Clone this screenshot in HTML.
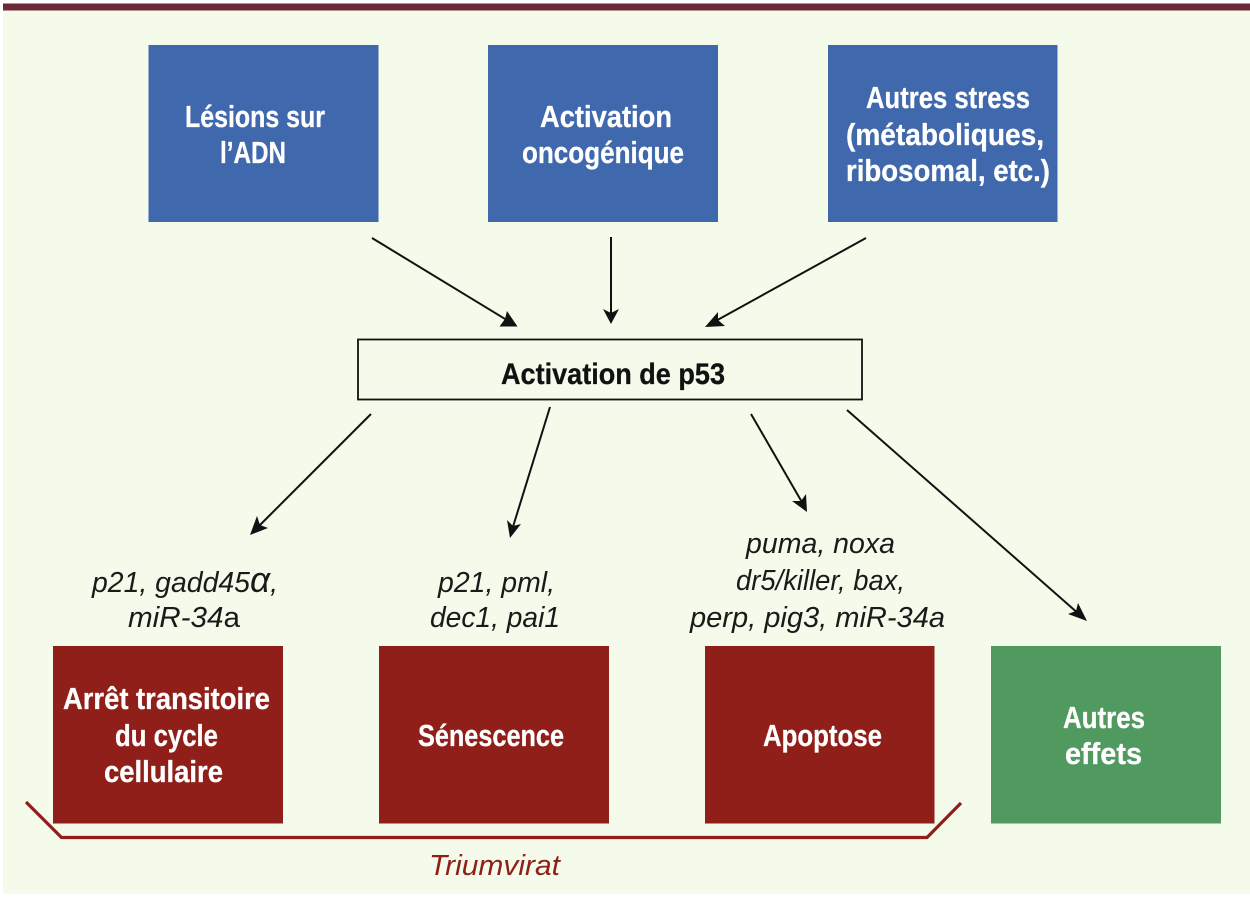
<!DOCTYPE html>
<html><head><meta charset="utf-8"><style>
html,body{margin:0;padding:0;background:#fff}
svg{display:block}
text{font-family:"Liberation Sans",sans-serif}
.b{font-weight:bold;font-size:31px;fill:#fff;stroke:#fff;stroke-width:.3}
.i{font-style:italic;font-size:29px;fill:#1a1a1a}
.l{stroke:#111;stroke-width:2;fill:none}
.h{fill:#111}
</style></head><body>
<svg width="1250" height="897" viewBox="0 0 1250 897" xmlns="http://www.w3.org/2000/svg">
<rect x="0" y="0" width="1250" height="897" fill="#fff"/>
<rect x="3" y="10" width="1247" height="884" fill="#f4fbea"/>
<rect x="3" y="3.5" width="1247" height="7" fill="#6b2a38"/>

<rect x="148.500" y="45" width="230" height="177" fill="#4068ac"/>
<rect x="488" y="45" width="230" height="177" fill="#4068ac"/>
<rect x="828" y="45" width="229.500" height="177" fill="#4068ac"/>
<rect x="358" y="339.500" width="504" height="60" fill="#f4fbea" stroke="#111" stroke-width="1.8"/>
<rect x="53" y="646" width="230" height="177.500" fill="#8f1f18"/>
<rect x="379" y="646" width="230" height="177.500" fill="#8f1f18"/>
<rect x="705" y="646" width="229.500" height="177.500" fill="#8f1f18"/>
<rect x="991" y="646" width="230" height="177.500" fill="#519a5f"/>

<path class="l" d="M372 238L510 322"/><path class="h" d="M517.500 326.500L499.500 326.500L505 319L507 311Z"/>
<path class="l" d="M611 237V316"/><path class="h" d="M611 324L603 309L611 313L619 309Z"/>
<path class="l" d="M866 238L712 323"/><path class="h" d="M705 327L718 312L718 320L725 326Z"/>
<path class="l" d="M371 414L256 529"/><path class="h" d="M250 535L257 516L260 525L268 528Z"/>
<path class="l" d="M550 407L512 530"/><path class="h" d="M510 538L507 520L513 526L521 524Z"/>
<path class="l" d="M751 414L803 504"/><path class="h" d="M807 512L792 501L801 501L806 494Z"/>
<path class="l" d="M847 410L1080 615"/><path class="h" d="M1087 621L1068 614L1076 611L1078 603Z"/>
<path d="M26 802L61.500 837.500H927L961 803" fill="none" stroke="#8f1f18" stroke-width="3.200"/>

<text class="b" x="185" y="127" textLength="140" lengthAdjust="spacingAndGlyphs">Lésions sur</text>
<text class="b" x="220" y="163" textLength="66" lengthAdjust="spacingAndGlyphs">l’ADN</text>
<text class="b" x="540" y="127" textLength="132" lengthAdjust="spacingAndGlyphs">Activation</text>
<text class="b" x="522" y="163" textLength="162" lengthAdjust="spacingAndGlyphs">oncogénique</text>
<text class="b" x="866" y="108" textLength="164" lengthAdjust="spacingAndGlyphs">Autres stress</text>
<text class="b" x="846" y="145" textLength="198" lengthAdjust="spacingAndGlyphs">(métaboliques,</text>
<text class="b" x="846" y="181" textLength="204" lengthAdjust="spacingAndGlyphs">ribosomal, etc.)</text>
<text class="b" x="63" y="709" textLength="207" lengthAdjust="spacingAndGlyphs">Arrêt transitoire</text>
<text class="b" x="115" y="746" textLength="103" lengthAdjust="spacingAndGlyphs">du cycle</text>
<text class="b" x="104" y="782" textLength="119" lengthAdjust="spacingAndGlyphs">cellulaire</text>
<text class="b" x="418" y="746" textLength="146" lengthAdjust="spacingAndGlyphs">Sénescence</text>
<text class="b" x="763" y="746" textLength="119" lengthAdjust="spacingAndGlyphs">Apoptose</text>
<text class="b" x="1063" y="728" textLength="82" lengthAdjust="spacingAndGlyphs">Autres</text>
<text class="b" x="1065" y="764" textLength="77" lengthAdjust="spacingAndGlyphs">effets</text>
<text x="501" y="384" font-weight="bold" font-size="30" fill="#111" stroke="#111" stroke-width=".3" textLength="224" lengthAdjust="spacingAndGlyphs">Activation de p53</text>

<text class="i" x="92" y="592" textLength="186" lengthAdjust="spacingAndGlyphs">p21, gadd45<tspan font-size="36">α</tspan>,</text>
<text class="i" x="128" y="627" textLength="112" lengthAdjust="spacingAndGlyphs">miR-34<tspan font-style="normal">a</tspan></text>
<text class="i" x="438" y="592" textLength="117" lengthAdjust="spacingAndGlyphs">p21, pml,</text>
<text class="i" x="430" y="627" textLength="130" lengthAdjust="spacingAndGlyphs">dec1, pai1</text>
<text class="i" x="746" y="553" textLength="149" lengthAdjust="spacingAndGlyphs">puma, noxa</text>
<text class="i" x="736" y="590" textLength="169" lengthAdjust="spacingAndGlyphs">dr5/killer, bax,</text>
<text class="i" x="690" y="627" textLength="255" lengthAdjust="spacingAndGlyphs">perp, pig3, miR-34a</text>
<text x="429" y="875" font-style="italic" font-size="29" fill="#8f1f18" textLength="131" lengthAdjust="spacingAndGlyphs">Triumvirat</text>
</svg>
</body></html>
